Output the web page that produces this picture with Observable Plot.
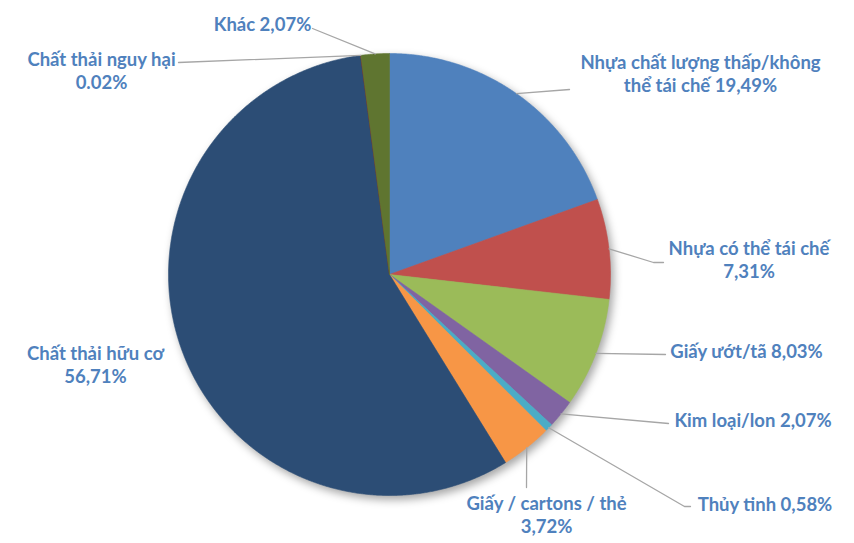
<!DOCTYPE html>
<html><head><meta charset="utf-8">
<script src="https://cdn.jsdelivr.net/npm/d3@7"></script>
<script src="https://cdn.jsdelivr.net/npm/@observablehq/plot@0.6"></script>
<style>
body{margin:0;background:#fff;}
</style>
</head><body><div id="chart"></div>
<script>
// ---- data ----
const categories = ["Nhựa chất lượng thấp/không thể tái chế","Nhựa có thể tái chế","Giấy ướt/tã","Kim loại/lon","Thủy tinh","Giấy / cartons / thẻ","Chất thải hữu cơ","Chất thải nguy hại","Khác"];
const values = [19.49, 7.31, 8.03, 2.07, 0.58, 3.72, 56.71, 0.02, 2.07];
const labelTexts = ["Nhựa chất lượng thấp/không\nthể tái chế 19,49%","Nhựa có thể tái chế\n7,31%","Giấy ướt/tã 8,03%","Kim loại/lon 2,07%","Thủy tinh 0,58%","Giấy / cartons / thẻ\n3,72%","Chất thải hữu cơ\n56,71%","Chất thải nguy hại\n0.02%","Khác 2,07%"];
const colors = ["#4F81BD","#C0504D","#9BBB59","#8064A2","#4BACC6","#F79646","#2C4D75","#772C2A","#5F7530"];

// ---- layout (pixels) ----
const W = 854, H = 543, CX = 389, CY = 274, R = 221;
const labelPos = [[700,72.5],[748.5,258.5],[746,350],[752.5,419],[764.5,503],[546,514],[95,363.5],[101,69.5],[262,23]];
const leaderEnds = [[[569,89]],[[653,262],[663,262]],[[665,354]],[[668,423]],[[684,506],[690,506]],[[526,487]],null,[[178,62]],[[312,28]]];
const toU = ([px,py]) => [(px-CX)/R, (CY-py)/R];

// ---- geometry from values (unit circle, clockwise from 12 o'clock) ----
const total = d3.sum(values);
const slicePts = [];
const leaderPts = [];
const labels = [];
let cum = 0;
values.forEach((v,i) => {
  const a0 = cum/total*2*Math.PI, a1 = (cum+v)/total*2*Math.PI;
  cum += v;
  const n = Math.max(2, Math.ceil((a1-a0)/0.005));
  slicePts.push({x:0,y:0,name:categories[i]});
  for (let k=0;k<=n;k++){ const t=a0+(a1-a0)*k/n; slicePts.push({x:Math.sin(t),y:Math.cos(t),name:categories[i]}); }
  slicePts.push({x:0,y:0,name:categories[i]});
  const am = (a0+a1)/2;
  if (leaderEnds[i]) {
    leaderPts.push({x:Math.sin(am),y:Math.cos(am),k:i});
    leaderEnds[i].forEach(p => { const [x,y]=toU(p); leaderPts.push({x,y,k:i}); });
  }
  const [lx,ly] = toU(labelPos[i]);
  labels.push({x:lx,y:ly,text:labelTexts[i]});
});

const chart = Plot.plot({
  width: W, height: H,
  margin: 0,
  x: {domain: [-CX/R, (W-CX)/R], range: [0, W], axis: null},
  y: {domain: [(CY-H)/R, CY/R], range: [H, 0], axis: null},
  color: {domain: categories, range: colors},
  style: {background: "white", overflow: "visible"},
  marks: [
    Plot.line(slicePts, {x:"x", y:"y", z:"name", fill:"name", stroke:"name", strokeWidth:0.6, curve:"linear"}),
    Plot.line(leaderPts, {x:"x", y:"y", z:"k", stroke:"#a6a6a6", strokeWidth:1.3}),
    Plot.text(labels, {x:"x", y:"y", text:"text", fill:"#4F81BD", fontSize:18.5, fontWeight:"bold", fontFamily:"Lato", lineHeight:1.22, textAnchor:"middle"})
  ]
});
const g = chart.querySelectorAll('g[aria-label="line"]')[0];
if (g) g.style.filter = "drop-shadow(3px 4px 4px rgba(0,0,0,0.35))";
document.getElementById("chart").appendChild(chart);
</script>
</body></html>
